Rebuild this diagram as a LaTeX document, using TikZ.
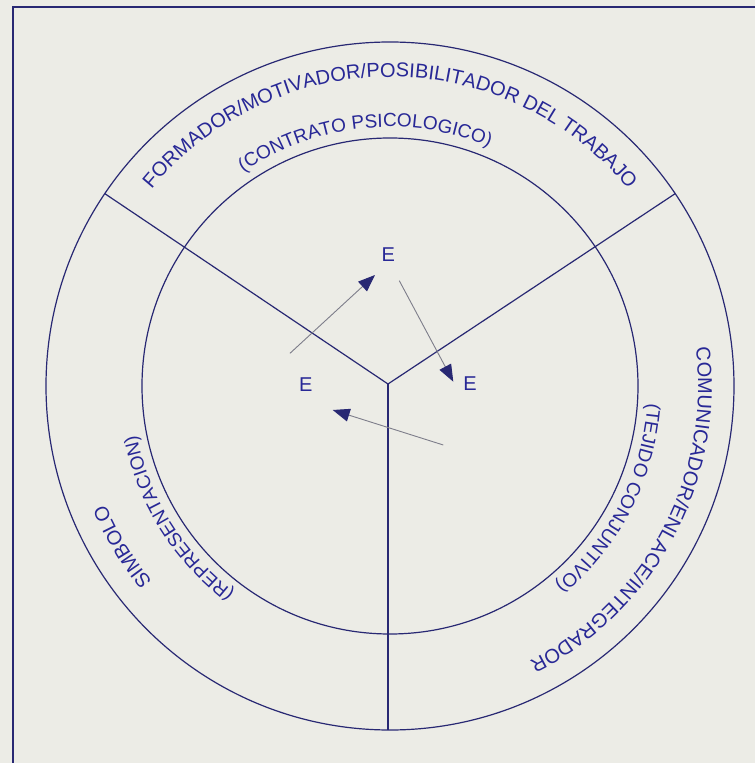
\documentclass[tikz,border=0pt]{standalone}
\usepackage{fontspec}
\setmainfont{Liberation Sans}
\usetikzlibrary{decorations.text,arrows.meta}
\definecolor{bgc}{RGB}{236,236,230}
\definecolor{navy}{RGB}{40,40,115}
\definecolor{txt}{RGB}{40,40,150}
\definecolor{arrc}{RGB}{125,125,138}
\newcommand{\outfnt}{\fontsize{20}{24}\selectfont}
\newcommand{\innfnt}{\fontsize{19}{23}\selectfont}
\begin{document}
\begin{tikzpicture}[x=1pt,y=1pt,
  ring/.style={draw=navy, line width=1.2pt},
  spoke/.style={draw=navy, line width=1.2pt},
  frameline/.style={draw=navy, line width=2pt},
  arctext/.style={decorate, decoration={text along path, text align=center, text color=txt, text={#1}}},
  elabel/.style={font=\outfnt, text=txt, inner sep=0pt},
  arrline/.style={draw=arrc, line width=0.9pt, -{Triangle[length=17pt,width=13pt,color=navy]}}
]
\fill[bgc] (-390,-377) rectangle (365,386);
\useasboundingbox (-390,-377) rectangle (365,386);
% frame
\draw[frameline] (365,378.7) -- (-376.7,378.7) -- (-376.7,-377);
% circles
\coordinate (c) at (0,0);
\draw[ring] (c) circle[radius=344];
\draw[ring] (c) circle[radius=248];
% spokes
\coordinate (s1) at (146:344);
\coordinate (s2) at (34:344);
\coordinate (s3) at (-2,-344);
\coordinate (j) at (-2,2);
\draw[spoke] (s1) -- (j) -- (s2);
\draw[spoke] (j) -- (s3);
% arc texts
\path[arctext={|\outfnt|FORMADOR/MOTIVADOR/POSIBILITADOR DEL TRABAJO}] (150:309) arc[start angle=150, end angle=30, radius=309];
\path[arctext={|\innfnt|(CONTRATO PSICOLOGICO)}] (156:259) arc[start angle=156, end angle=36, radius=259];
\path[arctext={|\outfnt|COMUNICADOR/ENLACE/INTEGRADOR}] (32:308) arc[start angle=32, end angle=-88, radius=308];
\path[arctext={|\innfnt|(TEJIDO CONJUNTIVO)}] (33:258) arc[start angle=33, end angle=-87, radius=258];
\path[arctext={|\outfnt|SIMBOLO}] (271:308) arc[start angle=271, end angle=151, radius=308];
\path[arctext={|\innfnt|(REPRESENTACION)}] (272:258) arc[start angle=272, end angle=152, radius=258];
% E labels
\node[elabel] (e1) at (-1.7,131) {E};
\node[elabel] (e2) at (-84.3,1) {E};
\node[elabel] (e3) at (80,2) {E};
% arrows
\coordinate (a1s) at (-100,32.7);
\coordinate (a1t) at (-15,111);
\coordinate (a2s) at (9.3,105.3);
\coordinate (a2t) at (63.3,4.3);
\coordinate (a3s) at (53.3,-59);
\coordinate (a3t) at (-57.3,-24);
\draw[arrline] (a1s) -- (a1t);
\draw[arrline] (a2s) -- (a2t);
\draw[arrline] (a3s) -- (a3t);
\end{tikzpicture}
\end{document}
